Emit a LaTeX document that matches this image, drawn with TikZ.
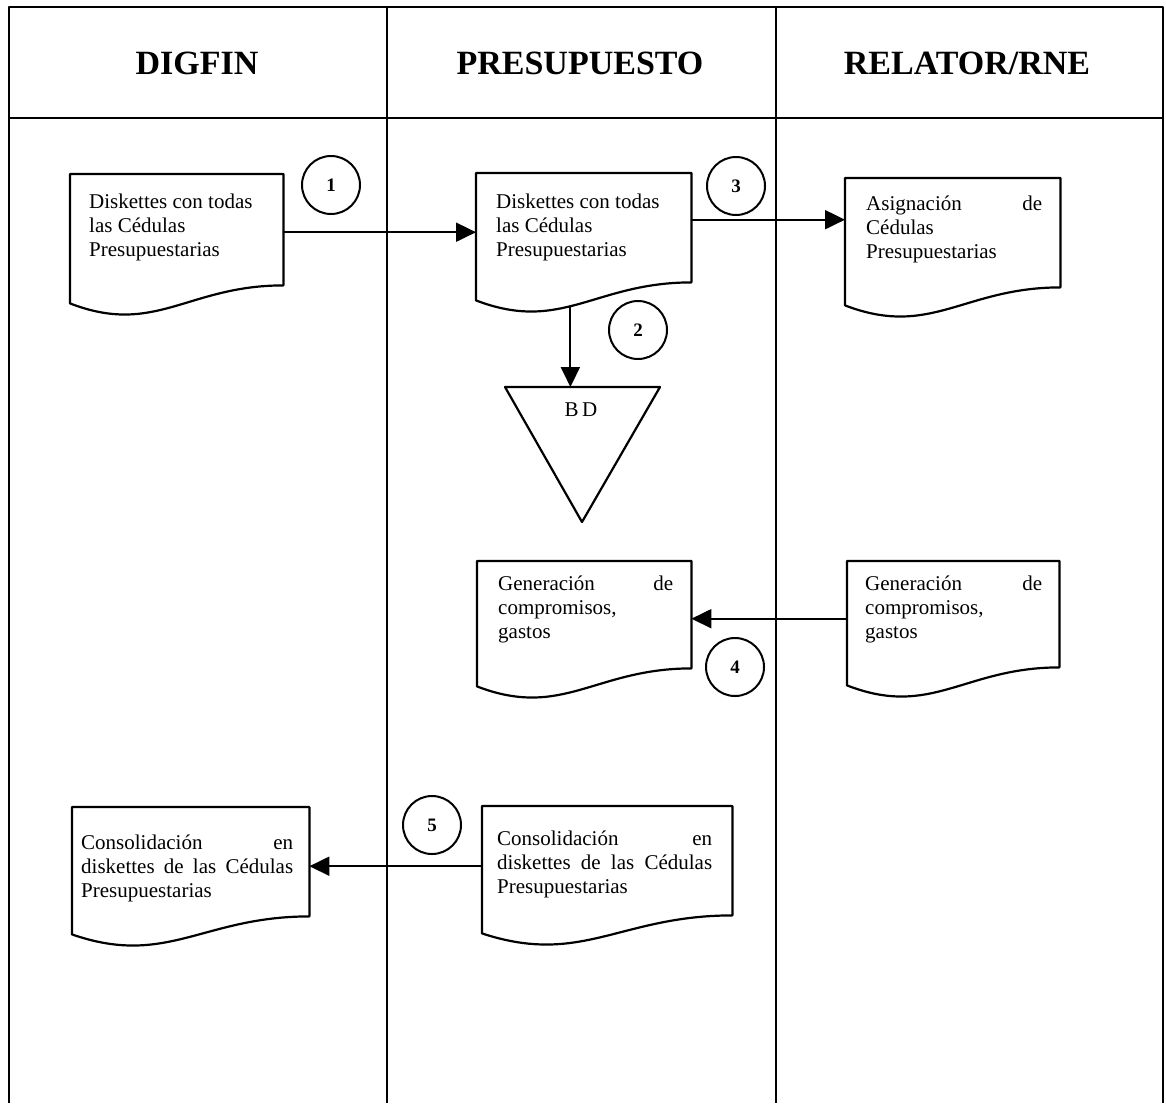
\documentclass[tikz,border=0pt]{standalone}
\usepackage{fontspec}
\setmainfont{Liberation Serif}
\usetikzlibrary{calc,arrows.meta}
\tikzset{
	docbody/.style={rectangle,inner sep=0pt,anchor=north west},
	doctext/.style={anchor=north west,inner sep=0pt,text width=#1,align=justify,font=\fontsize{21}{24}\selectfont},
	docline/.style={line width=2.2pt,line join=round},
	numcirc/.style={circle,draw,line width=2pt,minimum size=58pt,inner sep=0pt,font=\fontsize{19}{19}\selectfont\bfseries},
	flow/.style={line width=2pt,-{Triangle[length=20pt,width=19pt]}},
	lane/.style={line width=1.9pt},
	headtext/.style={font=\fontsize{34}{34}\selectfont\bfseries}
}
% document symbol: name, corner, width, height, text shift, text width, text
\newcommand\docsym[7]{%
	\node[docbody,minimum width=#3pt,minimum height=#4pt] (#1) at (#2) {};
	\node[doctext=#6pt] at ($(#1.north west)+(#5)$) {#7};
	\draw[docline] (#1.north west) -- (#1.north east) -- (#1.south east)
	.. controls +(-0.45*#3,0) and +(0.4*#3,33) .. ($(#1.south west)+(0,18)$)
	coordinate[pos=0.55] (#1-w) -- cycle;
}
\begin{document}
\begin{tikzpicture}[x=1pt,y=-1pt,line join=round]
	\useasboundingbox (0,0) rectangle (1166,1103);
	% lanes
	\draw[lane,line width=2.6pt] (9,1103) -- (9,7) -- (1163,7) -- (1163,1103);
	\draw[lane,line width=2.4pt] (9,118) -- (1163,118);
	\draw[lane] (387,7) -- (387,1103);
	\draw[lane] (776,7) -- (776,1103);
	\node[headtext] (hdig) at (197,63) {DIGFIN};
	\node[headtext] (hpre) at (580,63) {PRESUPUESTO};
	\node[headtext] (hrel) at (967,63) {RELATOR/RNE};
	
	% documents
	\docsym{dig1}{70,174}{213}{111}{19,19.5}{185}{Diskettes con todas\\las Cédulas\\Presupuestarias}
	\docsym{pre1}{476,173}{215}{109}{20,20.5}{185}{Diskettes con todas\\las Cédulas\\Presupuestarias}
	\docsym{rel1}{845,178}{215}{109}{21,17.5}{176}{Asignación\hfill de\\Cédulas\\Presupuestarias}
	\docsym{pre2}{477,561}{214}{107}{21,14.5}{175}{Generación\hfill de\\compromisos,\\gastos}
	\docsym{rel2}{847,561}{212}{106}{18,14.5}{177}{Generación\hfill de\\compromisos,\\gastos}
	\docsym{dig2}{72,807}{237}{109}{9,27.5}{212}{Consolidación\hfill en\\diskettes\hfill de\hfill las\hfill Cédulas\\Presupuestarias}
	\docsym{pre3}{482,806}{250}{109}{15,24.5}{215}{Consolidación\hfill en\\diskettes\hfill de\hfill las\hfill Cédulas\\Presupuestarias}
	
	% data base
	\path (582,387) coordinate (bdtop)
	+(-77,0) coordinate (bdl)
	+(78,0) coordinate (bdr)
	+(0,135) coordinate (bdapex);
	\draw[docline] (bdl)--(bdr)--(bdapex)--cycle;
	\node[font=\fontsize{21}{21}\selectfont] (bd) at (581,410) {B\,D};
	
	% steps
	\foreach \n/\p in {1/{331,185},2/{638,330},3/{736,186},4/{735,667},5/{432,825}}{
		\node[numcirc] (c\n) at (\p) {\n};
	}
	
	% flows
	\draw[flow] ([yshift=-2.5pt]dig1.east) -- ([yshift=-2.5pt]dig1.east -| pre1.west);
	\draw[flow] (pre1-w) -- (pre1-w |- bdtop);
	\draw[flow] ([yshift=8pt]pre1.east) -- ([yshift=8pt]pre1.east -| rel1.west);
	\draw[flow] ([yshift=-4.5pt]rel2.west) -- ([yshift=-4.5pt]rel2.west -| pre2.east);
	\draw[flow] ([yshift=-5.5pt]pre3.west) -- ([yshift=-5.5pt]pre3.west -| dig2.east);
	
\end{tikzpicture}
\end{document}
